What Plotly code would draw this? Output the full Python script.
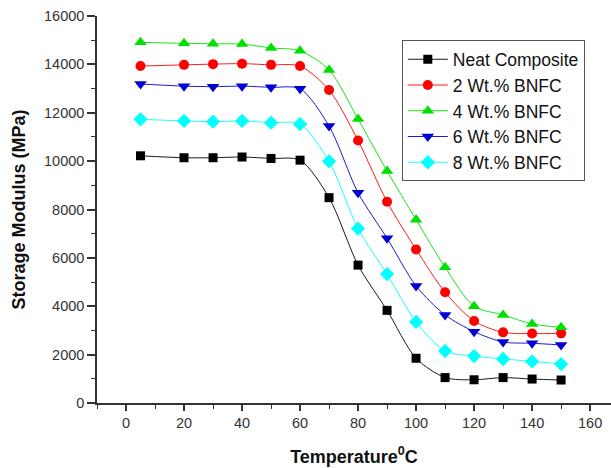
import plotly.graph_objects as go

temperature = [5, 20, 30, 40, 50, 60, 70, 80, 90, 100, 110, 120, 130, 140, 150]

neat = [10220, 10140, 10140, 10170, 10110, 10040, 8490, 5700, 3830, 1850, 1050, 960, 1050, 990, 950]
bnfc2 = [13930, 13980, 14010, 14030, 13980, 13930, 12940, 10850, 8320, 6350, 4580, 3390, 2920, 2870, 2880]
bnfc4 = [14910, 14870, 14850, 14840, 14680, 14560, 13770, 11740, 9590, 7580, 5610, 4000, 3640, 3270, 3130]
bnfc6 = [13190, 13100, 13080, 13100, 13050, 12990, 11450, 8690, 6810, 4840, 3640, 2950, 2520, 2470, 2400]
bnfc8 = [11730, 11660, 11630, 11660, 11590, 11530, 9990, 7210, 5330, 3350, 2150, 1940, 1820, 1720, 1610]

series_names = ["Neat Composite", "2 Wt.% BNFC", "4 Wt.% BNFC", "6 Wt.% BNFC", "8 Wt.% BNFC"]
series_values = [neat, bnfc2, bnfc4, bnfc6, bnfc8]
colors = ["#000000", "#ff0000", "#00e000", "#0000d0", "#00ffff"]
symbols = ["square", "circle", "triangle-up", "triangle-down", "diamond"]
sizes = [9, 10, 11, 11, 11]

x_ticks = [0, 20, 40, 60, 80, 100, 120, 140, 160]
y_ticks = [0, 2000, 4000, 6000, 8000, 10000, 12000, 14000, 16000]

FONT = "Arial, 'Liberation Sans', sans-serif"

fig = go.Figure()
for name, vals, c, s, sz in zip(series_names, series_values, colors, symbols, sizes):
    fig.add_trace(go.Scatter(
        x=temperature, y=vals, name=name, mode="lines+markers",
        line=dict(color=c, width=0.9, shape="spline", smoothing=0.8),
        marker=dict(color=c, symbol=s, size=sz, line=dict(width=0)),
    ))

fig.update_layout(
    width=611, height=468,
    margin=dict(l=97, r=0, t=16, b=65),
    paper_bgcolor="white", plot_bgcolor="white",
    font=dict(family=FONT, color="#222222"),
    showlegend=True,
    legend=dict(
        x=0.593, y=0.937, xanchor="left", yanchor="top",
        bordercolor="#555555", borderwidth=1, bgcolor="white",
        font=dict(size=17.5, family=FONT, color="#111111"),
        tracegroupgap=0, itemwidth=40,
    ),
)

fig.update_xaxes(
    range=[-10, 167.2], tickvals=x_ticks, ticktext=[str(v) for v in x_ticks],
    showgrid=False, zeroline=False, showline=True, linecolor="#333333", linewidth=1.5,
    ticks="outside", ticklen=6, tickwidth=1.5, tickcolor="#333333",
    tickfont=dict(size=14.5, family=FONT, color="#333333"),
    minor=dict(tickvals=[-10, 10, 30, 50, 70, 90, 110, 130, 150], ticks="outside", ticklen=4, tickwidth=1.2, tickcolor="#333333"),
    title=dict(text="<b>Temperature<sup>0</sup>C</b>", font=dict(size=18, family=FONT, color="#111111"), standoff=20),
)
fig.update_yaxes(
    range=[0, 16000], tickvals=y_ticks, ticktext=[str(v) for v in y_ticks],
    showgrid=False, zeroline=False, showline=True, linecolor="#333333", linewidth=1.5,
    ticks="outside", ticklen=8, tickwidth=1.5, tickcolor="#333333",
    tickfont=dict(size=14.5, family=FONT, color="#333333"),
    minor=dict(dtick=1000, ticks="outside", ticklen=4, tickwidth=1.2, tickcolor="#333333"),
    title=dict(text="<b>Storage Modulus (MPa)</b>", font=dict(size=18, family=FONT, color="#111111"), standoff=14),
)

fig.write_html("out.html")
